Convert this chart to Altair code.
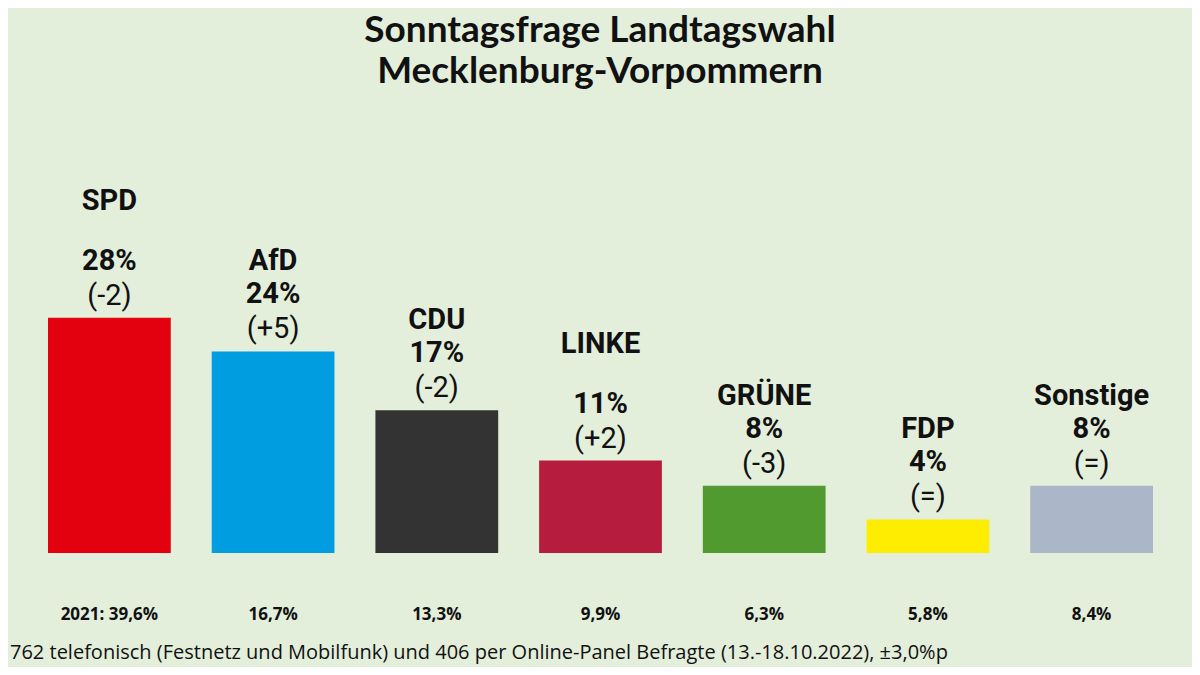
import altair as alt
import pandas as pd

# ---------------- data ----------------
parties = ["SPD", "AfD", "CDU", "LINKE", "GRÜNE", "FDP", "Sonstige"]
values = [28, 24, 17, 11, 8, 4, 8]
changes = ["-2", "+5", "-2", "+2", "-3", "=", "="]
landesreg = [True, False, False, True, False, False, False]
bar_colors = ["#e3000f", "#009ee0", "#333333", "#b51c3d", "#509a30", "#ffed00", "#abb6c8"]
ep_groups = ["S&D", "ID", "EVP", "LINKE", "G/EFA", "RE", "—"]
ep_colors = ["#ff0000", "#1a3f88", "#0252a1", "#d23434", "#008800", "#00a6fc", "#abb6c8"]
last_results = ["2021: 39,6%", "16,7%", "13,3%", "9,9%", "6,3%", "5,8%", "8,4%"]
logo_colors = ["#e3000f", "#333333", "#509a30", "#ffed00", "#009ee0", "#b51c3d"]

title_lines = ["Sonntagsfrage Landtagswahl", "Mecklenburg-Vorpommern"]
sub_date = "19. Oktober 2022"
sub_inst = "| Infratest dimap für den NDR"
sub_lines = ["Änderungen zur letzten Umfrage vom 08. Juni 2022",
             "Nächster regulärer Wahltermin im Herbst 2026"]
footer = "762 telefonisch (Festnetz und Mobilfunk) und 406 per Online-Panel Befragte (13.-18.10.2022), ±3,0%p"

df = pd.DataFrame({
    "party": parties, "value": values, "change": changes, "reg": landesreg,
    "bar_color": bar_colors, "ep": ep_groups, "ep_color": ep_colors, "result": last_results,
})

# ---------------- layout helpers ----------------
BG = "#e3efdb"
OFF = 8  # page margin
W, H = 1200 - 2 * OFF, 675 - 2 * OFF


def px(v):
    return v - OFF


X = alt.X("party:N",
          scale=alt.Scale(domain=parties, range=[px(48), px(1153)], paddingInner=0.25, paddingOuter=0),
          axis=None)
Y = alt.Y("value:Q", scale=alt.Scale(domain=[0, 60], range=[px(553), px(553 - 60 * 8.4)]), axis=None)

base = alt.Chart(df).encode(x=X)


def label(text, x, y, **kw):
    return alt.Chart(df).transform_filter("datum.party == 'SPD'").mark_text(baseline="middle", **kw).encode(
        x=alt.value(px(x)), y=alt.value(px(y)), text=alt.value(text))


layers = []

# bars
layers.append(base.mark_bar().encode(y=Y, color=alt.Color("bar_color:N", scale=None)))

# last election results
layers.append(base.mark_text(font="Open Sans", fontWeight="bold", fontSize=17, baseline="middle",
                             color="#111111").encode(y=alt.value(px(615)), text="result:N"))

# labels above bars
layers.append(base.transform_calculate(full="'(' + datum.change + ')'").mark_text(
    font="Roboto", fontSize=29, baseline="middle", dy=-22, color="#111111").encode(
    y=Y, text="full:N"))
layers.append(base.transform_calculate(pct="datum.value + '%'").mark_text(
    font="Roboto", fontWeight="bold", fontSize=29, baseline="middle", dy=-57, color="#111111"
).encode(y=Y, text="pct:N"))
layers.append(base.transform_filter("!datum.reg").mark_text(
    font="Roboto", fontWeight="bold", fontSize=29, baseline="middle", dy=-90, color="#111111").encode(
    y=Y, text="party:N"))
layers.append(base.transform_filter("datum.reg").mark_text(
    font="Roboto", fontWeight="bold", fontSize=29, baseline="middle", dy=-117, color="#111111").encode(
    y=Y, text="party:N"))

# title block
layers.append(label(title_lines[0], 600, 31, align="center", font="Lato", fontWeight="bold",
                    fontSize=37, color="#111111"))
layers.append(label(title_lines[1], 600, 72, align="center", font="Lato", fontWeight="bold",
                    fontSize=37, color="#111111"))
layers.append(label(footer, 10, 653, align="left", font="Open Sans", fontSize=20, color="#111111"))

chart = alt.layer(*layers).properties(
    width=W, height=H, padding=0, autosize=alt.AutoSizeParams(type="none"), background=BG
).configure_view(stroke=None)

chart.save("out.html", embed_options={"renderer": "svg", "actions": False})
